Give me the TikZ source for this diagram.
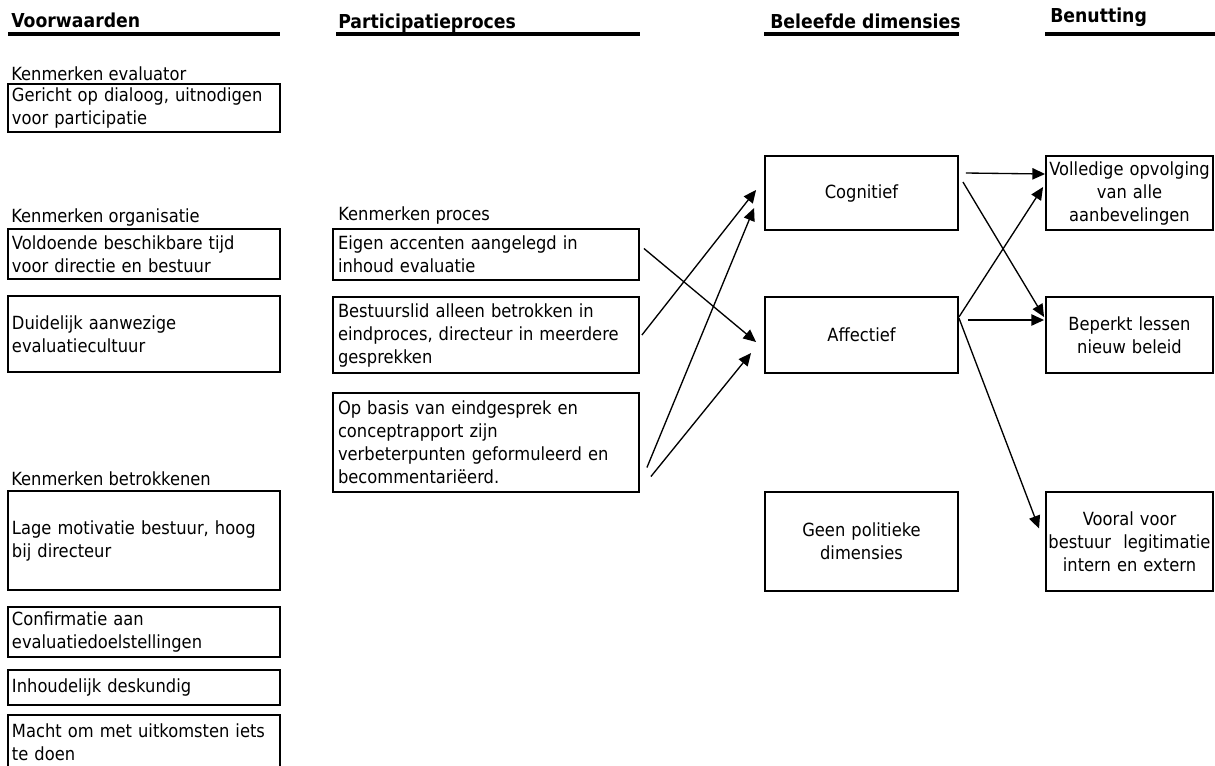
\documentclass[tikz,border=0pt]{standalone}
\usepackage{fontspec}
\setmainfont{DejaVu Sans}[FakeStretch=0.9]
\usetikzlibrary{arrows.meta}
\begin{document}
\begin{tikzpicture}[x=0.75pt,y=-0.75pt,
  every node/.style={font=\fontsize{13.6pt}{17.25pt}\selectfont},
  lbox/.style={draw,line width=1.4pt,inner sep=2.25pt,text width=198pt,align=left,minimum width=204pt},
  mbox/.style={draw,line width=1.4pt,inner sep=3pt,text width=222pt,align=left,minimum width=229.5pt},
  dbox/.style={draw,line width=1.4pt,inner sep=2pt,text width=140pt,align=center,minimum width=144.75pt},
  rbox/.style={draw,line width=1.4pt,inner sep=1pt,text width=123pt,align=center,minimum width=125.25pt},
  head/.style={anchor=base west,inner sep=0pt,font=\fontsize{14.4pt}{17pt}\selectfont\bfseries},
  lab/.style={anchor=west,inner sep=0pt},
  hline/.style={line width=2.6pt},
  arr/.style={line width=1pt,-{Triangle[length=9.5pt,width=8.5pt]}}
]
\useasboundingbox (0,0) rectangle (1215,765);
\clip (0,0) rectangle (1215,765);

% headers
\node[head] (h1) at (11,27) {Voorwaarden};
\node[head] (h2) at (338,28) {Participatieproces};
\node[head] (h3) at (770,28) {Beleefde dimensies};
\node[head] (h4) at (1050,22) {Benutting};
\draw[hline] (8,34) -- (280,34);
\draw[hline] (336,34) -- (640,34);
\draw[hline] (764,34) -- (959,34);
\draw[hline] (1045,34) -- (1215,34);

% left column
\node[lab] (k1) at (11,74) {Kenmerken evaluator};
\node[lbox,minimum height=36pt] (a1) at (144,108) {Gericht op dialoog, uitnodigen\\voor participatie};
\node[lab] (k2) at (11,217) {Kenmerken organisatie};
\node[lbox,minimum height=37.5pt] (a2) at (144,254) {Voldoende beschikbare tijd\\voor directie en bestuur};
\node[lbox,minimum height=57pt] (a3) at (144,334) {Duidelijk aanwezige\\evaluatiecultuur};
\node[lab] (k3) at (11,479) {Kenmerken betrokkenen};
\node[lbox,minimum height=74.25pt] (a4) at (144,540.5) {Lage motivatie bestuur, hoog\\bij directeur};
\node[lbox,minimum height=37.5pt] (a5) at (144,632) {Confirmatie aan\\evaluatiedoelstellingen};
\node[lbox,minimum height=26.25pt] (a6) at (144,687.5) {Inhoudelijk deskundig};
\node[lbox,minimum height=40pt] (a7) at (144,742) {Macht om met uitkomsten iets\\te doen};

% middle column
\node[lab] (k4) at (338,215) {Kenmerken proces};
\node[mbox,minimum height=38.25pt] (p1) at (486,254.5) {Eigen accenten aangelegd in\\inhoud evaluatie};
\node[mbox,minimum height=57pt] (p2) at (486,335) {Bestuurslid alleen betrokken in\\eindproces, directeur in meerdere\\gesprekken};
\node[mbox,minimum height=74.25pt] (p3) at (486,442.5) {Op basis van eindgesprek en\\conceptrapport zijn\\verbeterpunten geformuleerd en\\becommentariëerd.};

% dimensions
\node[dbox,minimum height=55.5pt] (cog) at (861.5,193) {Cognitief};
\node[dbox,minimum height=57pt] (aff) at (861.5,335) {Affectief};
\node[dbox,minimum height=74.25pt] (pol) at (861.5,541.5) {Geen politieke\\dimensies};

% benutting
\node[rbox,minimum height=55.5pt] (vol) at (1129.5,193) {Volledige opvolging\\van alle\\aanbevelingen};
\node[rbox,minimum height=57pt] (bep) at (1129.5,335) {Beperkt lessen\\nieuw beleid};
\node[rbox,minimum height=74.25pt] (voo) at (1129.5,541.5) {Vooral voor\\bestuur\ \ legitimatie\\intern en extern};

% arrows
\draw[arr] ([shift={(4,-6)}]p1.east) -- ([shift={(-8,7)}]aff.west);
\draw[arr] ([shift={(2,0)}]p2.east) -- ([shift={(-8,-3)}]cog.west);
\draw[arr] ([shift={(7,25)}]p3.east) -- ([shift={(-10,15)}]cog.west);
\draw[arr] ([shift={(11,34)}]p3.east) -- ([shift={(-13,18)}]aff.west);

\draw[arr] ([shift={(7,-20)}]cog.east) -- ([shift={(0,-19)}]vol.west);
\draw[arr] ([shift={(4,-11)}]cog.east) -- ([shift={(-1,-18)}]bep.west);
\draw[arr] ([shift={(0,-18)}]aff.east) -- ([shift={(-2,-6)}]vol.west);
\draw[arr] ([shift={(9,-15)}]aff.east) -- ([shift={(-1,-15)}]bep.west);
\draw[arr] ([shift={(0,-17)}]aff.east) -- ([shift={(-6,-13)}]voo.west);
\end{tikzpicture}
\end{document}
